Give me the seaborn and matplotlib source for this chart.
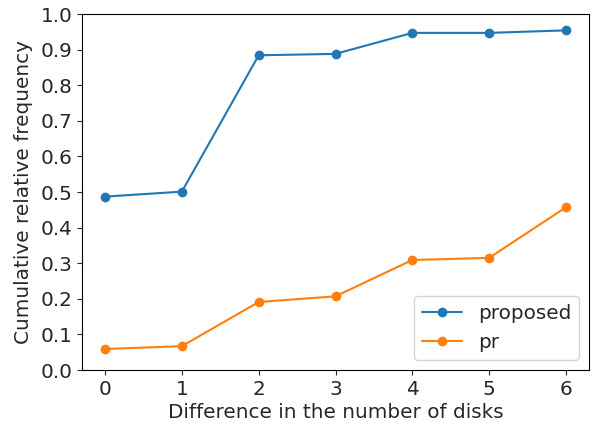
import matplotlib
matplotlib.use("Agg")
import matplotlib.pyplot as plt
import seaborn as sns
import pandas as pd

# Difference in the number of disks vs cumulative relative frequency
diff = [0, 1, 2, 3, 4, 5, 6]
proposed = [0.487, 0.501, 0.884, 0.888, 0.947, 0.947, 0.954]
pr = [0.059, 0.067, 0.191, 0.207, 0.309, 0.315, 0.457]

df = pd.DataFrame({
    "diff": diff * 2,
    "freq": proposed + pr,
    "method": ["proposed"] * len(diff) + ["pr"] * len(diff),
})

sns.set_style("ticks")
plt.rcParams["font.family"] = ["DejaVu Sans"]
fs = 14.4
plt.rcParams["font.size"] = fs

fig = plt.figure(figsize=(5.97, 4.25), dpi=100)
ax = fig.add_axes([82 / 597, 1 - 370 / 425, (589 - 82) / 597, (370 - 14) / 425])

sns.lineplot(data=df, x="diff", y="freq", hue="method", marker="o",
             markersize=7, markeredgewidth=0, linewidth=1.5,
             palette=["#1f77b4", "#ff7f0e"], ax=ax)

ax.set_ylim(0.0, 1.0)
ax.set_yticks([i / 10 for i in range(11)])
ax.set_xticks(diff)
ax.set_xlim(-0.3, 6.3)
ax.set_xlabel("Difference in the number of disks", fontsize=fs, labelpad=3)
ax.set_ylabel("Cumulative relative frequency", fontsize=fs, labelpad=5)
ax.tick_params(labelsize=fs)
for s in ax.spines.values():
    s.set_visible(True)
    s.set_color("black")
    s.set_linewidth(0.8)

leg = ax.legend(loc="lower right", fontsize=fs, frameon=True)
leg.get_frame().set_edgecolor("#cccccc")

fig.savefig("out.png", dpi=100)
